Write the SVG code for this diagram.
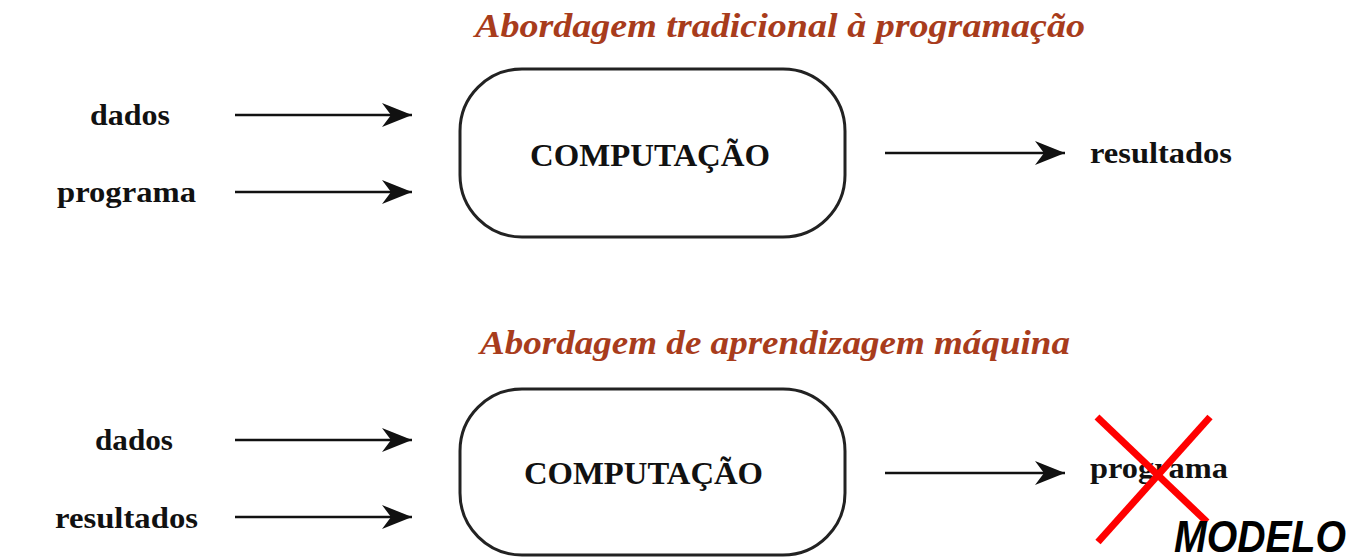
<svg xmlns="http://www.w3.org/2000/svg" width="1362" height="557" viewBox="0 0 1362 557">
<style>
.title{font-family:"Liberation Serif",serif;font-weight:bold;font-style:italic;font-size:34px;fill:#a83c1c}
.lbl{font-family:"Liberation Serif",serif;font-weight:bold;font-size:29px;fill:#111}
.comp{font-size:32px}
.box{fill:#fff;stroke:#222;stroke-width:3}
.conn line{stroke:#111;stroke-width:2.5}
.x{stroke:#ff0000;stroke-width:7}
.model{font-family:"Liberation Sans",sans-serif;font-weight:bold;font-style:italic;font-size:44px;fill:#000}
</style>
<defs>
<marker id="ah" markerUnits="userSpaceOnUse" markerWidth="34" markerHeight="24" refX="30" refY="12" orient="auto">
<path d="M0,0 L30,12 L0,24 L9,12 Z" fill="#111"/>
</marker>
</defs>
<rect width="1362" height="557" fill="#fff"/>
<text class="title" x="475" y="37" textLength="610" lengthAdjust="spacingAndGlyphs">Abordagem tradicional  à  programação</text>
<g id="in-dados-1"><text class="lbl" x="90" y="125" textLength="80" lengthAdjust="spacingAndGlyphs">dados</text></g>
<g id="in-programa-1"><text class="lbl" x="57" y="202" textLength="139" lengthAdjust="spacingAndGlyphs">programa</text></g>
<g id="comp-1"><rect class="box" x="460" y="69" width="385" height="168" rx="62" ry="62"/><text class="lbl comp" x="530" y="166" textLength="240" lengthAdjust="spacingAndGlyphs">COMPUTAÇÃO</text></g>
<g id="out-resultados-1"><text class="lbl" x="1090" y="163" textLength="142" lengthAdjust="spacingAndGlyphs">resultados</text></g>
<text class="title" x="480" y="354" textLength="590" lengthAdjust="spacingAndGlyphs">Abordagem de aprendizagem máquina</text>
<g id="in-dados-2"><text class="lbl" x="95" y="450" textLength="78" lengthAdjust="spacingAndGlyphs">dados</text></g>
<g id="in-resultados-2"><text class="lbl" x="55" y="528" textLength="143" lengthAdjust="spacingAndGlyphs">resultados</text></g>
<g id="comp-2"><rect class="box" x="460" y="389" width="385" height="166" rx="62" ry="62"/><text class="lbl comp" x="524" y="484" textLength="239" lengthAdjust="spacingAndGlyphs">COMPUTAÇÃO</text></g>
<g id="out-programa-2"><text class="lbl" x="1090" y="478" textLength="138" lengthAdjust="spacingAndGlyphs">programa</text>
<line class="x" x1="1097" y1="417" x2="1207" y2="522"/><line class="x" x1="1210" y1="417" x2="1098" y2="542"/>
<text class="model" x="1174" y="552" textLength="172" lengthAdjust="spacingAndGlyphs">MODELO</text></g>
<g class="conn" id="connectors">
<line x1="235" y1="115" x2="412" y2="115" marker-end="url(#ah)"/>
<line x1="235" y1="192" x2="412" y2="192" marker-end="url(#ah)"/>
<line x1="885" y1="153" x2="1065" y2="153" marker-end="url(#ah)"/>
<line x1="235" y1="440" x2="412" y2="440" marker-end="url(#ah)"/>
<line x1="235" y1="517" x2="412" y2="517" marker-end="url(#ah)"/>
<line x1="885" y1="473" x2="1065" y2="473" marker-end="url(#ah)"/>
</g>
</svg>
